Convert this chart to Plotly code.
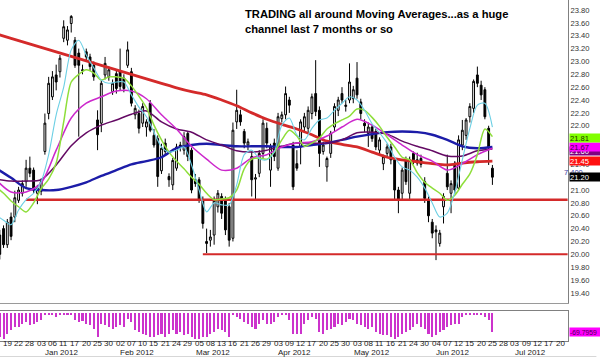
import pandas as pd
import plotly.graph_objects as go

# ---------------- data ----------------
HOLIDAYS = ["2011-12-26", "2012-01-02", "2012-01-16", "2012-02-20",
            "2012-04-06", "2012-05-28", "2012-07-04"]
SESSIONS = [d.strftime("%Y-%m-%d") for d in
            pd.bdate_range("2011-12-14", "2012-07-24", freq="C", holidays=HOLIDAYS)]

OPEN = [20.30, 20.30, 20.40, 20.15, 20.58, 20.58, 20.84, 20.95, 21.13, 21.34,
        21.31, 20.95, 20.98, 21.60, 22.19, 22.45, 22.79, 22.84, 23.36, 23.33,
        23.59, 23.33, 23.13, 22.87, 23.15, 23.07, 22.94, 22.09, 22.04, 22.79,
        22.76, 22.53, 22.81, 22.84, 22.74, 22.94, 22.84, 22.17, 22.19, 22.04,
        21.98, 22.35, 21.85, 21.80, 21.30, 21.73, 21.21, 21.08, 21.34, 21.70,
        21.62, 21.88, 21.62, 21.16, 21.16, 20.84, 20.20, 20.22, 20.30, 20.74,
        20.90, 20.84, 20.74, 20.25, 22.06, 22.17, 21.91, 21.70, 21.52, 21.17,
        21.26, 21.57, 21.96, 21.31, 21.73, 21.34, 22.11, 22.17, 22.40, 21.70,
        21.41, 21.67, 21.98, 21.96, 22.19, 22.50, 22.24, 21.60, 21.36, 21.57,
        21.98, 22.24, 22.50, 22.30, 22.40, 22.42, 22.74, 22.37, 22.04, 21.88,
        21.98, 21.91, 21.62, 21.41, 21.57, 21.67, 21.47, 21.00, 20.95, 21.47,
        20.95, 21.57, 21.47, 21.49, 21.13, 20.85, 20.50, 20.38, 20.17, 20.74,
        21.26, 20.95, 21.42, 21.03, 21.70, 21.85, 22.14, 22.27, 22.79, 22.63,
        22.56, 21.96, 21.34]
HIGH = [20.40, 20.38, 20.45, 20.55, 20.65, 20.99, 21.05, 21.15, 21.47, 21.52,
        21.35, 21.08, 21.18, 22.19, 22.76, 22.85, 22.95, 23.10, 23.64, 23.55,
        23.72, 23.38, 23.20, 22.95, 23.20, 23.12, 23.00, 22.24, 22.70, 23.07,
        22.92, 22.72, 22.88, 23.20, 22.80, 23.31, 22.90, 22.32, 22.25, 22.35,
        22.10, 22.40, 21.95, 21.85, 21.72, 21.80, 21.26, 21.50, 21.72, 21.75,
        21.90, 21.91, 21.66, 21.25, 21.20, 20.90, 20.40, 20.38, 20.90, 21.00,
        20.95, 20.90, 20.80, 22.05, 22.56, 22.25, 21.95, 21.80, 21.60, 21.25,
        21.62, 22.10, 22.05, 21.72, 21.80, 22.20, 22.22, 22.61, 22.45, 21.75,
        21.62, 22.10, 22.20, 22.30, 22.50, 23.02, 22.30, 21.75, 21.52, 21.92,
        22.35, 22.45, 22.60, 22.40, 22.97, 22.62, 22.99, 22.42, 22.10, 22.05,
        22.02, 21.95, 21.82, 21.55, 21.72, 21.72, 21.50, 21.05, 21.35, 21.52,
        21.52, 21.60, 21.58, 21.55, 21.20, 20.90, 20.55, 20.45, 20.38, 20.95,
        21.55, 21.15, 21.45, 21.85, 22.09, 22.12, 22.35, 22.72, 22.92, 22.70,
        22.60, 22.00, 21.39]
LOW = [20.05, 19.92, 20.10, 20.10, 20.22, 20.50, 20.80, 20.90, 21.05, 21.20,
       20.95, 20.78, 20.92, 21.55, 22.10, 22.40, 22.55, 22.75, 23.30, 23.25,
       23.45, 22.90, 21.83, 22.80, 23.00, 22.85, 22.70, 21.62, 21.90, 22.72,
       22.70, 22.48, 22.50, 22.55, 22.52, 22.90, 22.30, 22.10, 21.88, 21.98,
       21.83, 21.90, 21.66, 21.05, 21.25, 21.55, 21.05, 21.00, 21.30, 21.60,
       21.55, 21.45, 20.95, 21.05, 20.80, 20.40, 20.02, 20.12, 20.15, 20.65,
       20.55, 20.30, 20.12, 20.20, 21.95, 22.00, 21.65, 21.62, 20.90, 20.84,
       21.20, 21.50, 21.65, 21.05, 21.45, 21.30, 22.05, 22.10, 22.20, 21.00,
       21.30, 21.40, 21.90, 21.90, 22.10, 22.15, 21.36, 21.55, 21.13, 21.50,
       21.92, 22.15, 22.35, 22.22, 22.35, 22.35, 22.42, 22.10, 21.90, 21.67,
       21.75, 21.62, 21.55, 21.31, 21.50, 21.40, 20.84, 20.64, 20.84, 21.08,
       20.84, 21.40, 21.38, 21.35, 20.80, 20.50, 20.25, 19.91, 20.12, 20.48,
       21.00, 20.64, 20.95, 21.00, 21.62, 21.78, 22.05, 22.20, 22.60, 22.40,
       22.10, 21.39, 21.08]
CLOSE = [20.10, 20.00, 20.15, 20.50, 20.28, 20.88, 21.00, 21.10, 21.34, 21.26,
         21.00, 21.03, 21.13, 22.04, 22.66, 22.76, 22.68, 23.05, 23.54, 23.49,
         23.70, 22.94, 22.94, 22.86, 23.07, 22.92, 22.76, 21.86, 22.66, 22.97,
         22.87, 22.66, 22.58, 22.61, 22.58, 23.18, 22.35, 22.27, 21.96, 22.30,
         22.06, 21.93, 21.70, 21.21, 21.65, 21.60, 21.16, 21.46, 21.67, 21.67,
         21.83, 21.52, 21.00, 21.10, 20.84, 20.48, 20.17, 20.27, 20.84, 20.95,
         20.64, 20.38, 20.22, 21.93, 22.24, 22.06, 21.73, 21.75, 21.16, 21.19,
         21.57, 22.04, 21.73, 21.67, 21.52, 22.14, 22.17, 22.50, 22.32, 21.05,
         21.34, 22.06, 22.14, 22.24, 22.45, 22.22, 21.57, 21.70, 21.49, 21.88,
         22.30, 22.40, 22.40, 22.32, 22.68, 22.56, 22.48, 22.19, 22.00, 21.98,
         21.80, 21.67, 21.78, 21.52, 21.67, 21.47, 21.00, 20.84, 21.31, 21.13,
         21.47, 21.47, 21.42, 21.40, 20.87, 20.60, 20.33, 20.35, 20.33, 20.90,
         21.05, 21.10, 21.00, 21.78, 21.93, 22.09, 22.30, 22.69, 22.66, 22.48,
         22.14, 21.67, 21.20]

# Williams %R style oscillator (bottom pane), one per session
WILLR = [-85, -89, -95, -76, -64, -52, -52, -39, -33, -46,
         -39, -33, -27, -9, -9, -9, -15, -7, -5, -9,
         -5, -27, -33, -30, -39, -46, -58, -89, -39, -46,
         -52, -58, -52, -46, -52, -21, -33, -64, -70, -76,
         -83, -89, -89, -83, -76, -89, -76, -64, -76, -70,
         -83, -76, -89, -95, -95, -89, -89, -76, -70, -58,
         -64, -70, -89, -9, -15, -21, -33, -39, -52, -58,
         -39, -27, -39, -39, -33, -15, -9, -9, -27, -76,
         -76, -76, -39, -27, -15, -21, -70, -76, -64, -58,
         -52, -39, -46, -33, -21, -27, -39, -46, -52, -58,
         -52, -70, -76, -83, -83, -89, -95, -89, -76, -70,
         -64, -52, -39, -52, -58, -76, -89, -83, -70, -64,
         -52, -46, -39, -39, -15, -9, -5, -9, -6, -9,
         -15, -27, -69.7959]

# Moving averages, slow ones every 4th session
MA_RED = [23.43, 23.36, 23.29, 23.22, 23.15, 23.08, 23.01, 22.94, 22.87, 22.80,
          22.73, 22.66, 22.59, 22.53, 22.48, 22.40, 22.31, 22.20, 22.10, 22.02,
          21.95, 21.86, 21.76, 21.71, 21.67, 21.59, 21.51, 21.47, 21.44, 21.41,
          21.39, 21.42, 21.44, 21.45]
MA_BLUE = [21.34, 21.19, 21.03, 21.00, 21.00, 21.05, 21.12, 21.22, 21.31, 21.40,
           21.45, 21.51, 21.65, 21.70, 21.72, 21.70, 21.68, 21.68, 21.68, 21.67,
           21.67, 21.70, 21.73, 21.78, 21.83, 21.87, 21.90, 21.91, 21.90, 21.86,
           21.78, 21.68, 21.65, 21.67]
MA_PURPLE = [21.17, 21.14, 21.14, 21.16, 21.39, 21.69, 21.89, 22.01, 22.09, 22.18,
             22.23, 22.06, 21.95, 21.90, 21.78, 21.70, 21.61, 21.59, 21.62, 21.68,
             21.73, 21.73, 21.73, 21.78, 21.89, 21.90, 21.87, 21.76, 21.68, 21.61,
             21.53, 21.53, 21.61, 21.64]
MA_MAGENTA = [21.16, 20.97, 20.97, 21.11, 21.62, 22.12, 22.35, 22.45, 22.54, 22.54,
              22.42, 22.17, 21.95, 21.68, 21.48, 21.31, 21.34, 21.50, 21.55, 21.67,
              21.73, 21.75, 21.84, 21.98, 22.10, 22.01, 21.86, 21.70, 21.55, 21.45,
              21.31, 21.41, 21.55, 21.65]
# fast ones every 2nd session
MA_GREEN = [21.05, 20.95, 20.83, 20.74, 20.66, 20.80, 21.02, 21.17, 21.42, 22.06,
            22.68, 22.80, 22.87, 22.82, 22.71, 22.76, 22.76, 22.74, 22.62, 22.46,
            22.28, 22.01, 21.78, 21.59, 21.45, 21.33, 21.20, 21.09, 20.95, 20.85,
            20.86, 20.88, 21.00, 21.33, 21.48, 21.50, 21.48, 21.59, 21.78, 21.93,
            21.84, 21.68, 21.73, 21.81, 21.95, 22.03, 22.09, 22.15, 22.26, 22.24,
            22.13, 21.99, 21.82, 21.67, 21.51, 21.47, 21.27, 21.12, 21.03, 20.95,
            20.84, 20.92, 21.09, 21.25, 21.55, 21.95, 21.83]
MA_CYAN = [20.61, 20.53, 20.46, 20.69, 20.85, 20.95, 21.13, 21.55, 22.17, 22.60,
           23.18, 23.33, 23.10, 22.90, 22.71, 22.66, 22.68, 22.68, 22.48, 22.29,
           22.14, 21.90, 21.67, 21.59, 21.62, 21.67, 21.39, 21.00, 20.66, 20.80,
           20.77, 20.77, 21.08, 21.55, 21.62, 21.49, 21.47, 21.59, 22.01, 22.12,
           21.86, 21.78, 21.96, 22.09, 22.12, 22.24, 22.35, 22.45, 22.40, 22.24,
           22.03, 21.89, 21.73, 21.51, 21.36, 21.31, 21.20, 21.03, 20.80, 20.58,
           20.64, 20.97, 21.47, 21.96, 22.32, 22.35, 21.98]

UPPER_LEVEL = 20.85
UPPER_FROM = "2011-12-27"
LOWER_LEVEL = 20.00
LOWER_FROM = "2012-03-06"

# price-axis labels (those hidden under the value tags are left out)
PRICE_TICKS = [19.40, 19.60, 19.80, 20.00, 20.20, 20.40, 20.60, 20.80, 21.00,
               21.40, 22.00, 22.20, 22.40, 22.60, 22.80, 23.00, 23.20, 23.40,
               23.60, 23.80]
TAG_VALUES = [21.60, 21.67, 21.81, 21.45, 21.20]
SIDE_NOTE = "7.400"
SIDE_NOTE_LEVEL = 21.27
OSC_TAG = -69.7959
TITLE_LINES = ["TRADING all around Moving Averages...as a huge",
               "channel last 7 months or so"]
MONTHS = ["Jan 2012", "Feb 2012", "Mar 2012", "Apr 2012", "May 2012", "Jun 2012", "Jul 2012"]

# ---------------- figure ----------------
n = len(CLOSE)
days = SESSIONS[:n]
slow_x = SESSIONS[0:n:4]
fast_x = SESSIONS[0:n:2]
FONT = "Liberation Sans, Arial, sans-serif"
LEVEL_RED = "#d42a2a"

fig = go.Figure()

def ma(xs, ys, color, width):
    fig.add_trace(go.Scatter(x=xs, y=ys, mode="lines", xaxis="x", yaxis="y",
                             line=dict(color=color, width=width, shape="spline", smoothing=0.8),
                             hoverinfo="skip", showlegend=False))

# level lines
fig.add_trace(go.Scatter(x=[UPPER_FROM, SESSIONS[-1]], y=[UPPER_LEVEL, UPPER_LEVEL],
                         mode="lines", line=dict(color=LEVEL_RED, width=2.5),
                         xaxis="x", yaxis="y", showlegend=False))
fig.add_trace(go.Scatter(x=[LOWER_FROM, SESSIONS[-1]], y=[LOWER_LEVEL, LOWER_LEVEL],
                         mode="lines", line=dict(color=LEVEL_RED, width=2),
                         xaxis="x", yaxis="y", showlegend=False))

ma(slow_x, MA_RED, LEVEL_RED, 2.8)
ma(slow_x, MA_BLUE, "#1c1ca8", 2.4)
ma(slow_x, MA_PURPLE, "#640a64", 1.5)
ma(slow_x, MA_MAGENTA, "#cc28cc", 1.5)
ma(fast_x, MA_GREEN, "#8ede3a", 1.5)
ma(fast_x, MA_CYAN, "#6ccfe4", 1.1)

fig.add_trace(go.Candlestick(
    x=days, open=OPEN, high=HIGH, low=LOW, close=CLOSE,
    xaxis="x", yaxis="y", whiskerwidth=0,
    increasing=dict(line=dict(color="#000000", width=1), fillcolor="#ffffff"),
    decreasing=dict(line=dict(color="#000000", width=1), fillcolor="#000000"),
    showlegend=False, hoverinfo="skip"))

fig.add_trace(go.Bar(x=days, y=WILLR, xaxis="x2", yaxis="y2", width=0.55,
                     marker=dict(color="#cc33cc", line=dict(width=0)),
                     showlegend=False, hoverinfo="skip"))

XR = [1.06, 152.1]
common_x = dict(type="category", categoryorder="array", categoryarray=SESSIONS,
                range=XR, showgrid=False, zeroline=False,
                rangeslider=dict(visible=False), fixedrange=True)

fig.update_layout(
    width=600, height=357, autosize=False,
    margin=dict(l=0, r=32, t=0, b=16),
    paper_bgcolor="white", plot_bgcolor="white",
    showlegend=False, bargap=0,
    font=dict(family=FONT, color="#222222", size=8),
    xaxis=dict(**common_x, anchor="y", showticklabels=False,
               showline=True, linecolor="#9a9a9a", linewidth=1),
    xaxis2=dict(**common_x, anchor="y2", showticklabels=False, ticks="",
                showline=True, mirror=True, linecolor="#808080", linewidth=1),
    yaxis=dict(domain=[38 / 341, 1], range=[19.2432, 23.9555], side="right",
               anchor="x", tickvals=PRICE_TICKS, tickformat=".2f",
               tickfont=dict(size=7.6, color="#333333"), ticks="",
               showgrid=False, zeroline=False, showline=True,
               linecolor="#808080", linewidth=1, fixedrange=True),
    yaxis2=dict(domain=[0, 30 / 341], range=[-103.7, 7.4], side="right",
                anchor="x2", showticklabels=False, showgrid=False, zeroline=False,
                showline=True, linecolor="#808080", linewidth=1, fixedrange=True),
)

# date tick labels (every third session) placed tight under the lower pane
for d in SESSIONS[0:151:3]:
    fig.add_annotation(x=d, xref="x2", y=-0.006, yref="paper", text=d[8:10],
                       showarrow=False, xanchor="center", yanchor="middle",
                       font=dict(size=8, color="#222222"))

# month labels
for m in MONTHS:
    mon = pd.to_datetime(m, format="%b %Y").strftime("%Y-%m")
    first = next(d for d in SESSIONS if d.startswith(mon))
    fig.add_annotation(x=first, xref="x2", y=-0.033, yref="paper", text=m,
                       showarrow=False, xanchor="left", yanchor="middle", xshift=2,
                       font=dict(size=8, color="#222222"))

# faint strip under the date labels
fig.add_shape(type="line", xref="paper", yref="paper", x0=0, x1=1.05,
              y0=-0.046, y1=-0.046, line=dict(color="#cfcfcf", width=1))

# title text
fig.add_annotation(x=243 / 568, y=0.982, xref="paper", yref="paper",
                   text="<b>" + "<br>".join(TITLE_LINES) + "</b>",
                   showarrow=False, xanchor="left", yanchor="top", align="left",
                   font=dict(size=11.2, color="#000000", family=FONT))

# small blue label near the axis
fig.add_annotation(x=1, xref="paper", y=SIDE_NOTE_LEVEL, yref="y", text=SIDE_NOTE,
                   showarrow=False, xanchor="left", yanchor="middle", xshift=-6,
                   font=dict(size=7.5, color="#3a3aa0"))

# last-value tags on the price axis
tag_bg = ["#800080", "#ff00ff", "#80ff00", "#ff1010", "#000000"]
tag_fg = ["#ffffff", "#400040", "#203000", "#ffffff", "#ffffff"]
for v, bg, fg in zip(TAG_VALUES, tag_bg, tag_fg):
    fig.add_annotation(x=1, xref="paper", y=v, yref="y", text=f"{v:.2f}",
                       showarrow=False, xanchor="left", yanchor="middle", xshift=1,
                       width=31, align="left", height=8,
                       bgcolor=bg, borderpad=0, font=dict(size=7.6, color=fg))
fig.add_annotation(x=1, xref="paper", y=OSC_TAG, yref="y2", text=f"{OSC_TAG:.4f}",
                   showarrow=False, xanchor="left", yanchor="middle", xshift=1,
                   width=31, align="left", height=8,
                   bgcolor="#ff00ff", borderpad=0, font=dict(size=6.8, color="#500050"))

fig.write_html("out.html", config={"displayModeBar": False},
               post_script="document.body.style.margin='0';")
